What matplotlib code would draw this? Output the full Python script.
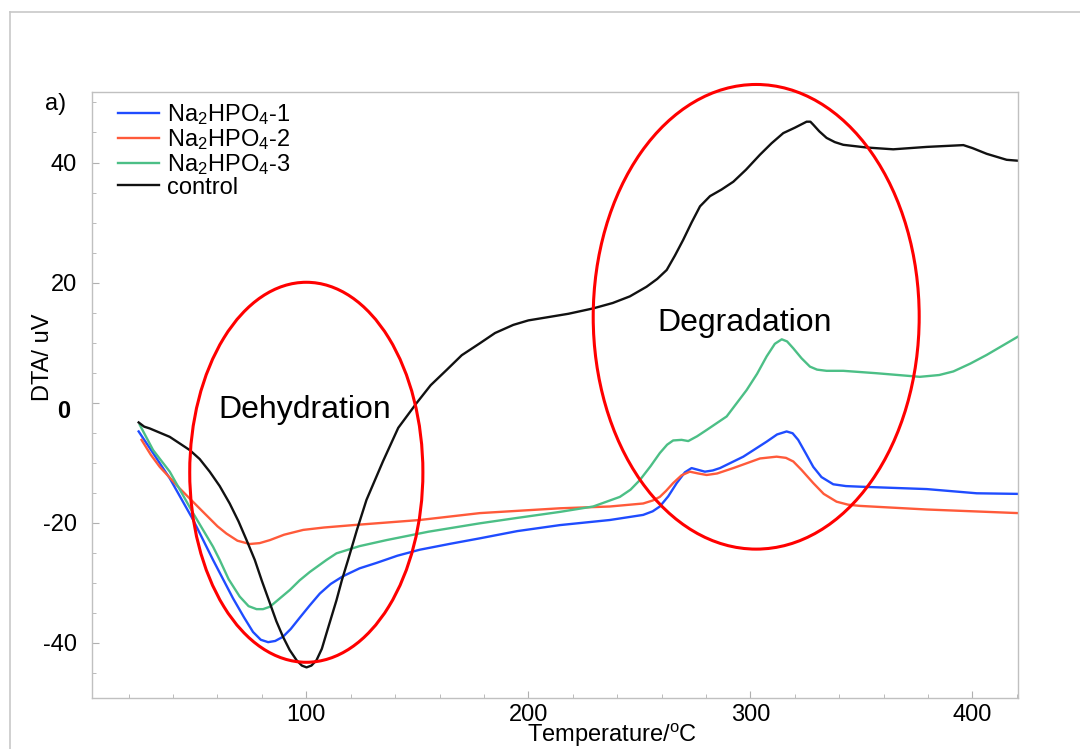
import numpy as np
import matplotlib
matplotlib.use("Agg")
import matplotlib.pyplot as plt
from matplotlib.patches import Ellipse
from matplotlib.lines import Line2D
from matplotlib.ticker import MultipleLocator
from matplotlib.transforms import ScaledTranslation

plt.rcParams["font.family"] = ["Liberation Sans", "DejaVu Sans"]
plt.rcParams["mathtext.fontset"] = "custom"
plt.rcParams["mathtext.rm"] = "Liberation Sans"
plt.rcParams["mathtext.it"] = "Liberation Sans:italic"
plt.rcParams["axes.unicode_minus"] = False

# DTA curves, temperature in degC vs signal in uV
t_control = [24.5, 27, 29.5, 38.5, 47.5, 52, 56.5, 61, 65.5, 69.5, 73.1, 76.8, 80, 83.6,
             86.5, 89.5, 92.5, 95.6, 98, 100.1, 102.3, 104.6, 107, 109.1, 113.6, 116,
             118.8, 122.8, 127.1, 134.5, 141.4, 149.6, 156, 163.2, 170, 178.2, 185, 193.2,
             200, 208.2, 218, 229.2, 238, 245.7, 253.2, 258, 262.3, 266, 269.7, 273.5,
             277.3, 281.8, 287, 292.3, 298, 304.3, 309.5, 314.8, 320, 325.3, 327, 328.3,
             331, 334.3, 338, 341.8, 352.3, 364.3, 379.4, 395.9, 400, 406.4, 415.4, 420.5]
dta_control = [-3.3, -4.0, -4.3, -5.7, -7.9, -9.4, -11.5, -13.9, -16.8, -19.8, -22.9, -26.2,
               -29.7, -33.4, -36.4, -39.0, -41.2, -42.9, -43.8, -44.1, -43.8, -42.9, -41.0,
               -38.4, -32.9, -29.6, -26.2, -21.2, -16.2, -9.8, -4.2, -0.1, 2.9, 5.45, 7.9,
               9.9, 11.6, 12.95, 13.7, 14.2, 14.8, 15.7, 16.6, 17.7, 19.3, 20.6, 22.1, 24.5,
               27.1, 30.0, 32.7, 34.4, 35.5, 36.8, 38.8, 41.3, 43.2, 44.9, 45.8, 46.8, 46.8,
               46.3, 45.2, 44.1, 43.4, 42.95, 42.5, 42.2, 42.6, 42.9, 42.4, 41.45, 40.45,
               40.3]

t_s1 = [24.5, 31, 38.5, 49, 58, 67, 72, 76, 79.5, 82.8, 86, 89.5, 93, 97.1, 101.5, 106.1,
        111, 116.6, 124, 131.6, 141, 151.1, 165, 178.2, 195, 214.2, 236.7, 251.7, 256,
        259.2, 263, 266.8, 270.5, 273.5, 276.5, 279.5, 283, 286.3, 296.8, 307.3, 312,
        316.3, 319, 321.5, 325, 328.3, 332, 337.3, 343, 349.3, 379.4, 401.9, 420.5]
dta_s1 = [-4.8, -8.4, -12.6, -19.5, -26.2, -32.6, -35.8, -38.2, -39.5, -39.9, -39.7, -39.0,
          -37.7, -35.8, -33.8, -31.8, -30.2, -28.9, -27.6, -26.7, -25.5, -24.5, -23.5,
          -22.6, -21.4, -20.4, -19.55, -18.7, -18.1, -17.3, -15.6, -13.4, -11.6, -10.9,
          -11.2, -11.5, -11.3, -10.9, -9.0, -6.5, -5.3, -4.8, -5.1, -6.2, -8.5, -10.7,
          -12.4, -13.6, -13.9, -14.0, -14.4, -15.1, -15.2]

t_s2 = [25.8, 30, 34, 43, 53.5, 60, 64, 69, 74.5, 79, 83.6, 90, 98.6, 108, 121.1, 151.1,
        178.2, 214.2, 236.7, 251.7, 256, 259.2, 262, 265.2, 269, 272.7, 276.5, 280.3, 285,
        292.3, 304.3, 311.8, 316, 319.3, 323, 328.3, 333, 338.8, 344, 349.3, 379.4, 420.5]
dta_s2 = [-6.2, -8.7, -10.7, -14.3, -18.2, -20.6, -21.8, -23.0, -23.55, -23.4, -22.9, -22.0,
          -21.2, -20.8, -20.4, -19.55, -18.4, -17.6, -17.3, -16.8, -16.3, -15.7, -14.7,
          -13.4, -12.1, -11.5, -11.8, -12.05, -11.8, -10.9, -9.3, -9.0, -9.2, -9.8, -11.2,
          -13.4, -15.2, -16.5, -17.0, -17.2, -17.8, -18.4]

t_s3 = [25, 31, 38.5, 49, 58, 61, 65, 70, 74, 77.6, 80.5, 83.6, 88.1, 92.6, 97, 101.6,
        109.1, 113.6, 124, 136.1, 155, 178.2, 195, 214.2, 229.2, 241.2, 246, 250.2, 255,
        259.2, 262.5, 265.2, 269, 272, 276, 280.3, 289.3, 298.3, 303, 307.3, 311, 314.1,
        316.5, 319.3, 323, 326.8, 330, 334.3, 341.8, 356.8, 376.3, 385, 391.4, 399, 406.4,
        420.5]
dta_s3 = [-3.7, -7.9, -11.5, -18.4, -24.0, -26.2, -29.4, -32.3, -33.9, -34.4, -34.4, -34.0,
          -32.6, -31.2, -29.6, -28.2, -26.2, -25.1, -23.9, -22.9, -21.5, -20.1, -19.2,
          -18.2, -17.3, -15.7, -14.5, -12.9, -10.6, -8.4, -7.0, -6.3, -6.2, -6.4, -5.6,
          -4.55, -2.3, 2.1, 4.8, 7.7, 9.8, 10.55, 10.2, 9.05, 7.4, 6.0, 5.5, 5.3, 5.3,
          4.9, 4.3, 4.6, 5.2, 6.5, 7.95, 11.0]

labels = [r"Na$_2$HPO$_4$-1", r"Na$_2$HPO$_4$-2", r"Na$_2$HPO$_4$-3", "control"]
colors = ["#1f4cff", "#ff5a3a", "#4cbf86", "#111111"]

# marked regions: ellipse centre T, centre DTA, width, height, caption and its place
regions = [(100, -11.6, 105, 63.3, "Dehydration", 99.3, -1.2),
           (302.6, 14.3, 146.8, 77.4, "Degradation", 297.5, 13.3)]

fig = plt.figure(figsize=(10.8, 7.49), dpi=100)
ax = fig.add_axes([0.0852, 0.0681, 0.8574, 0.8095])

series = [(t_s1, dta_s1), (t_s2, dta_s2), (t_s3, dta_s3), (t_control, dta_control)]
for (t, d), lab, c in zip(series, labels, colors):
    ax.plot(t, d, color=c, lw=1.7, label=lab, solid_joinstyle="round")

for cx, cy, w, h, name, tx, ty in regions:
    ax.add_patch(Ellipse((cx, cy), w, h, fill=False, edgecolor="#ff0000", lw=2.2,
                         clip_on=False, zorder=5))
    ax.text(tx, ty, name, fontsize=23, ha="center", va="center")

ax.set_xlim(3.5, 420.5)
ax.set_ylim(-49.2, 51.8)
ax.xaxis.set_minor_locator(MultipleLocator(20))
ax.yaxis.set_minor_locator(MultipleLocator(5))
ax.set_xticks([100, 200, 300, 400])
ax.set_yticks([-40, -20, 0, 20, 40])

for s in ax.spines.values():
    s.set_color("#c0c0c0")
    s.set_linewidth(1.0)
ax.tick_params(which="both", direction="in", color="#b0b0b0", labelsize=17)
ax.tick_params(which="major", length=5)
ax.tick_params(which="minor", length=3)
ax.tick_params(axis="x", pad=4)
ax.tick_params(axis="y", pad=11)
for lbl in ax.get_yticklabels():
    if lbl.get_text() == "0":
        lbl.set_fontweight("bold")
        lbl.set_transform(lbl.get_transform()
                          + ScaledTranslation(-0.06, -0.06, fig.dpi_scale_trans))

ax.set_xlabel(r"Temperature/$^{\mathrm{o}}$C", fontsize=17, va="center")
ax.xaxis.set_label_coords(0.5616, -0.061)
ax.set_ylabel("DTA/ uV", fontsize=17, va="center")
ax.yaxis.set_label_coords(-0.0529, 0.5624)

ax.legend(loc="upper left", bbox_to_anchor=(0.028, 0.983), frameon=False, fontsize=17,
          handlelength=1.75, handletextpad=0.33, labelspacing=0.0, borderpad=0,
          borderaxespad=0)

fig.text(56 / 1080, 1 - 104 / 749, "a)", fontsize=17, ha="center", va="center")

# thin grey frame around the whole panel
fig.add_artist(Line2D([9.5 / 1080, 1.0], [1 - 11.7 / 749] * 2, color="#c8c8c8", lw=1.2))
fig.add_artist(Line2D([9.5 / 1080] * 2, [0.0, 1 - 11.7 / 749], color="#c8c8c8", lw=1.2))

fig.savefig("out.png", dpi=100)
